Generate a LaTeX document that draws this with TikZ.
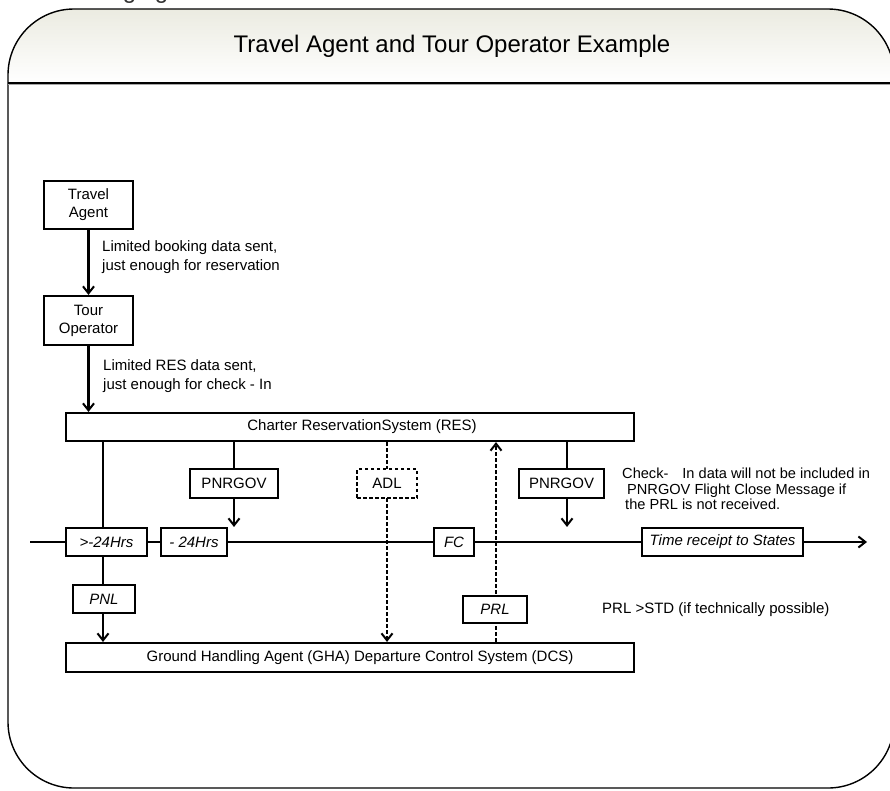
\documentclass[tikz,border=0pt]{standalone}
\usepackage{fontspec}
\setmainfont{Liberation Sans}
\usetikzlibrary{arrows.meta,calc}
\definecolor{hdr}{RGB}{235,235,225}
\tikzset{
  box/.style={draw=black,line width=2.1pt,fill=white,inner sep=0pt,align=center,font=\fontsize{15}{18}\selectfont},
  itbox/.style={box,font=\itshape\fontsize{15}{18}\selectfont},
  conn/.style={line width=2.1pt},
  arr/.style={conn,-{Straight Barb[length=7pt,width=11pt,line width=2pt]}},
  dconn/.style={conn,dash pattern=on 3.5pt off 2.5pt},
  darr/.style={dconn,-{Straight Barb[length=7pt,width=11pt,line width=2pt]}},
  note/.style={inner sep=0pt,align=left,font=\fontsize{15}{19}\selectfont},
}
\begin{document}
\begin{tikzpicture}[x=1pt,y=-1pt]
\useasboundingbox (0,0) rectangle (890,790);
% frame and header
\begin{scope}
  \clip[rounded corners=66pt] (8,9) rectangle (894,788);
  \shade[top color=hdr,bottom color=white] (8,9) rectangle (894,83);
\end{scope}
\draw[line width=1.4pt,rounded corners=66pt] (8,9) rectangle (894,788);
\draw[black!35,line width=1pt] (8,84.8) -- (894,84.8);
\draw[line width=1.4pt] (8,83) -- (894,83);
\node[anchor=base west,inner sep=0pt,text=black!80,font=\fontsize{24}{28}\selectfont] (topcut) at (52,-2) {Messaging};
\node[font=\fontsize{24}{28}\selectfont,inner sep=0pt] (title) at (452,46) {Travel Agent and Tour Operator Example};

% coordinates for lines
\coordinate (xa) at (103,0);
\coordinate (xb) at (234,0);
\coordinate (xc) at (387,0);
\coordinate (xd) at (496,0);
\coordinate (xe) at (567,0);
\coordinate (tlstart) at (30,542);
\coordinate (tlend) at (867,542);

% main timeline
\draw[arr] (tlstart) -- (tlend);

% boxes
\node[box,minimum width=89pt,minimum height=48pt] (ta) at (88.5,205) {Travel\\Agent};
\node[box,minimum width=89pt,minimum height=49pt] (to) at (88.5,320.5) {Tour\\Operator};
\node[box,minimum width=568pt,minimum height=28pt] (res) at (350,427) {};
\node[inner sep=0pt,font=\fontsize{15}{18}\selectfont] (reslbl) at (362,427) {Charter ReservationSystem (RES)};
\node[box,minimum width=568pt,minimum height=29pt] (gha) at (350,657.5) {};
\node[inner sep=0pt,font=\fontsize{15}{18}\selectfont] (ghalbl) at (360,658) {Ground Handling Agent (GHA) Departure Control System (DCS)};

% connectors (drawn before small boxes)
\draw[arr] (ta) -- (to);
\draw[arr] (to.south) -- (to.south |- res.north);
\draw[dconn] (res.south -| xc) -- (xc |- 469,469);
\draw[darr] (xc |- 498,498) -- (gha.north -| xc);
\draw[darr] (gha.north -| xd) -- (res.south -| xd);

\node[itbox,minimum width=81pt,minimum height=28pt] (h24a) at (106.5,542) {>-24Hrs};
\node[itbox,minimum width=66pt,minimum height=28pt] (h24b) at (194,542) {- 24Hrs};
\node[itbox,minimum width=62pt,minimum height=28pt] (pnl) at (104,599) {PNL};
\node[box,minimum width=88pt,minimum height=29pt] (p1) at (234,483.5) {PNRGOV};
\node[box,minimum width=60pt,minimum height=29pt,dash pattern=on 3.5pt off 2.5pt] (adl) at (387,483.5) {ADL};
\node[itbox,minimum width=40pt,minimum height=28pt] (fc) at (454,542) {FC};
\node[itbox,minimum width=64pt,minimum height=27pt] (prl) at (495,609.5) {PRL};
\node[box,minimum width=85pt,minimum height=29pt] (p2) at (561.5,483.5) {PNRGOV};
\node[itbox,minimum width=161pt,minimum height=28pt] (trs) at (722.5,542) {Time receipt to States};

\draw[conn] (res.south -| xa) -- (h24a.north -| xa);
\draw[conn] (h24a.south -| xa) -- (pnl.north -| xa);
\draw[arr] (pnl.south -| xa) -- (gha.north -| xa);
\draw[conn] (res.south -| xb) -- (p1.north);
\draw[arr] (p1.south) -- (h24b.north -| xb);
\draw[conn] (res.south -| xe) -- (p2.north -| xe);
\draw[arr] (p2.south -| xe) -- (trs.north -| xe);

% notes
\node[note,anchor=west] (n1) at (102,257.5) {Limited booking data sent,\\just enough for reservation};
\node[note,anchor=west] (n2) at (103,376) {Limited RES data sent,\\just enough for check - In};
\node[note,anchor=north west,font=\fontsize{14.6}{15.5}\selectfont] (n3) at (622,468) {Check-\hspace{14pt}In data will not be included in\\\hspace{5pt}PNRGOV Flight Close Message if\\\hspace{3pt}the PRL is not received.};
\node[note,anchor=west] (n4) at (602,610) {PRL >STD (if technically possible)};
\end{tikzpicture}
\end{document}
